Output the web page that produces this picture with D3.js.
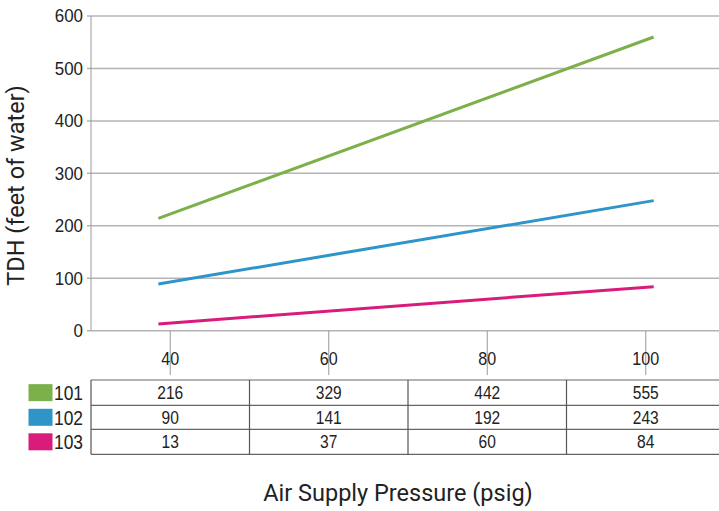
<!DOCTYPE html>
<html>
<head>
<meta charset="utf-8">
<script src="https://cdn.jsdelivr.net/npm/d3@7"></script>
<style>
  body { margin: 0; background: #fff; }
  text { fill: #222; }
</style>
</head>
<body>
<script>
// table values
var pressures = [40, 60, 80, 100];
var seriesNames = ["101", "102", "103"];
var tdh101 = [216, 329, 442, 555];
var tdh102 = [90, 141, 192, 243];
var tdh103 = [13, 37, 60, 84];

// plotted lines (as drawn)
var lineX = [38.5, 101];
var line101 = [214, 560];
var line102 = [89, 248];
var line103 = [13, 84];

var yTicks = [0, 100, 200, 300, 400, 500, 600];
var colors = ["#7cb04a", "#2f95c8", "#d91b7c"];

var width = 719;
var height = 511;
var numFont = "'Liberation Sans', Arial, sans-serif";
var titleFont = "Roboto, 'Liberation Sans', sans-serif";

var svg = d3.select("body")
    .append("svg")
    .attr("width", width)
    .attr("height", height);

var x = d3.scaleLinear()
    .domain([30, 110])
    .range([91, 725]);

var y = d3.scaleLinear()
    .domain([0, 600])
    .range([330.7, 16]);

// squeezed text, the source uses a condensed face
function narrowText(sel, sx) {
    return sel.attr("transform", function (d) {
        var t = d3.select(this);
        return "translate(" + t.attr("data-x") + "," + t.attr("data-y") + ") scale(" + sx + ",1)";
    });
}

// gridlines + y labels
svg.append("g")
    .selectAll("line")
    .data(yTicks)
    .enter()
    .append("line")
    .attr("x1", 87)
    .attr("x2", width)
    .attr("y1", function (d) { return y(d); })
    .attr("y2", function (d) { return y(d); })
    .style("stroke", "#b4b4b4")
    .style("stroke-width", 1.5);

svg.append("g")
    .selectAll("text")
    .data(yTicks)
    .enter()
    .append("text")
    .attr("data-x", 83)
    .attr("data-y", function (d) { return y(d); })
    .attr("dy", "0.36em")
    .attr("text-anchor", "end")
    .style("font-family", numFont)
    .style("font-size", "17.5px")
    .text(function (d) { return d; })
    .call(narrowText, 0.97);

// y axis line
svg.append("line")
    .attr("x1", 91).attr("x2", 91)
    .attr("y1", y(600)).attr("y2", y(0))
    .style("stroke", "#999")
    .style("stroke-width", 1);

// x ticks
svg.append("g")
    .selectAll("line")
    .data(pressures)
    .enter()
    .append("line")
    .attr("x1", function (d) { return x(d); })
    .attr("x2", function (d) { return x(d); })
    .attr("y1", y(0))
    .attr("y2", 375)
    .style("stroke", "#999")
    .style("stroke-width", 1);

svg.append("g")
    .selectAll("text")
    .data(pressures)
    .enter()
    .append("text")
    .attr("data-x", function (d) { return x(d); })
    .attr("data-y", 359)
    .attr("dy", "0.36em")
    .attr("text-anchor", "middle")
    .style("font-family", numFont)
    .style("font-size", "17.5px")
    .text(function (d) { return d; })
    .call(narrowText, 0.92);

// lines
var lineData = [line101, line102, line103];
var line = d3.line()
    .x(function (d, i) { return x(lineX[i]); })
    .y(function (d) { return y(d); });

svg.append("g")
    .selectAll("path")
    .data(lineData)
    .enter()
    .append("path")
    .attr("d", function (d) { return line(d); })
    .style("fill", "none")
    .style("stroke", function (d, i) { return colors[i]; })
    .style("stroke-width", 3);

// data table
var tableRows = [tdh101, tdh102, tdh103];
var rowY = [380, 405.3, 429.3, 454.3];

var table = svg.append("g");
table.selectAll("line.h")
    .data(rowY)
    .enter()
    .append("line")
    .attr("class", "h")
    .attr("x1", 91)
    .attr("x2", width)
    .attr("y1", function (d) { return d; })
    .attr("y2", function (d) { return d; })
    .style("stroke", "#666")
    .style("stroke-width", 1.2);

table.selectAll("line.v")
    .data([30, 50, 70, 90])
    .enter()
    .append("line")
    .attr("class", "v")
    .attr("x1", function (d) { return x(d); })
    .attr("x2", function (d) { return x(d); })
    .attr("y1", rowY[0])
    .attr("y2", rowY[3])
    .style("stroke", "#555")
    .style("stroke-width", 1.2);

tableRows.forEach(function (row, r) {
    var cy = (rowY[r] + rowY[r + 1]) / 2;
    table.append("g")
        .selectAll("text")
        .data(row)
        .enter()
        .append("text")
        .attr("data-x", function (d, i) { return x(pressures[i]); })
        .attr("data-y", cy)
        .attr("dy", "0.36em")
        .attr("text-anchor", "middle")
        .style("font-family", numFont)
        .style("font-size", "18.5px")
        .text(function (d) { return d; })
        .call(narrowText, 0.84);

    // legend
    table.append("rect")
        .attr("x", 28.5)
        .attr("y", cy - 8.5)
        .attr("width", 24)
        .attr("height", 17)
        .style("fill", colors[r]);
    table.append("text")
        .datum(seriesNames[r])
        .attr("data-x", 54)
        .attr("data-y", cy)
        .attr("dy", "0.36em")
        .style("font-family", numFont)
        .style("font-size", "20px")
        .text(seriesNames[r])
        .call(narrowText, 0.87);
});

// axis titles
svg.append("text")
    .attr("x", 398)
    .attr("y", 501)
    .attr("text-anchor", "middle")
    .style("font-family", titleFont)
    .style("font-size", "23.5px")
    .text("Air Supply Pressure (psig)");

svg.append("text")
    .attr("transform", "translate(24,185.5) rotate(-90)")
    .attr("text-anchor", "middle")
    .style("font-family", titleFont)
    .style("font-size", "23.5px")
    .text("TDH (feet of water)");
</script>
</body>
</html>
